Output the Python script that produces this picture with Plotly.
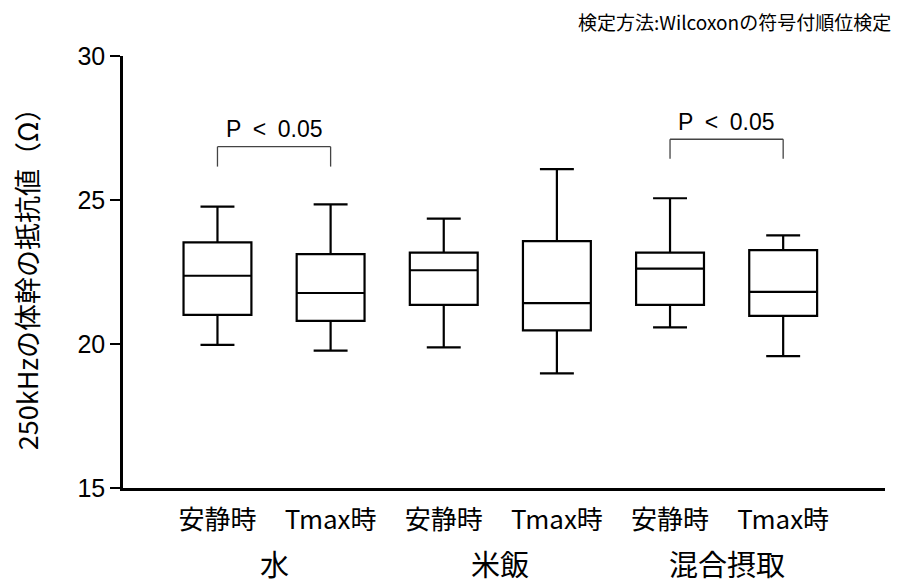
import plotly.graph_objects as go

# ---- data ----
conditions = ["安静時", "Tmax時", "安静時", "Tmax時", "安静時", "Tmax時"]
groups = ["水", "米飯", "混合摂取"]
lower_whisker = [19.97, 19.77, 19.88, 18.98, 20.58, 19.58]
q1_vals       = [21.01, 20.80, 21.36, 20.47, 21.36, 20.98]
medians       = [22.37, 21.77, 22.56, 21.42, 22.62, 21.81]
q3_vals       = [23.53, 23.12, 23.17, 23.57, 23.17, 23.26]
upper_whisker = [24.77, 24.85, 24.35, 26.07, 25.06, 23.77]
sig_pairs = [(0, 1), (4, 5)]
sig_text = "P\u2002<\u20020.05"
y_ticks = [15, 20, 25, 30]

FONT = "Noto Sans CJK JP"

fig = go.Figure()
for i in range(len(conditions)):
    fig.add_trace(go.Box(
        x=[i], q1=[q1_vals[i]], median=[medians[i]], q3=[q3_vals[i]],
        lowerfence=[lower_whisker[i]], upperfence=[upper_whisker[i]],
        width=0.6, whiskerwidth=0.5,
        line=dict(color="black", width=2.2),
        fillcolor="white", boxpoints=False, showlegend=False,
        hoverinfo="skip",
    ))

shapes = []
annotations = []
bracket_levels = [(26.16, 26.85, 27.47), (26.43, 27.11, 27.72)]
for (a, b), (ylo, yhi, ytxt) in zip(sig_pairs, bracket_levels):
    for seg in [(a, ylo, a, yhi), (a, yhi, b, yhi), (b, yhi, b, ylo)]:
        shapes.append(dict(type="line", xref="x", yref="y",
                           x0=seg[0], y0=seg[1], x1=seg[2], y1=seg[3],
                           line=dict(color="#444444", width=1.3)))
    annotations.append(dict(x=(a + b) / 2, y=ytxt, xref="x", yref="y",
                            text=sig_text, showarrow=False, yanchor="middle",
                            font=dict(family="Liberation Sans", size=23, color="black")))

# group labels
for gi, g in enumerate(groups):
    annotations.append(dict(x=2 * gi + 0.5, y=-0.174, xref="x", yref="paper",
                            text=g, showarrow=False, yanchor="middle",
                            font=dict(family=FONT, size=29, color="black")))

# y-axis title
annotations.append(dict(x=-0.127, y=0.5, xref="paper", yref="paper",
                        text="250kHzの体幹の抵抗値（Ω）", textangle=-90,
                        showarrow=False, xanchor="center", yanchor="middle",
                        font=dict(family=FONT, size=27, color="black")))
# test method note
annotations.append(dict(x=1.0095, y=1.079, xref="paper", yref="paper",
                        text="検定方法:Wilcoxonの符号付順位検定",
                        showarrow=False, xanchor="right", yanchor="middle",
                        borderpad=0,
                        font=dict(family=FONT, size=19, color="black")))

fig.update_layout(
    width=896, height=578,
    margin=dict(l=115, r=19, t=48, b=98),
    paper_bgcolor="white", plot_bgcolor="white",
    shapes=shapes, annotations=annotations,
    xaxis=dict(range=[-0.835, 5.9], tickmode="array",
               tickvals=list(range(len(conditions))), ticktext=conditions,
               showline=True, linecolor="black", linewidth=2.5,
               ticks="", showgrid=False, zeroline=False, ticklabelstandoff=7,
               tickfont=dict(family=FONT, size=26, color="black")),
    yaxis=dict(range=[15, 30], tickmode="array", tickvals=y_ticks,
               showline=True, linecolor="black", linewidth=2.5,
               ticks="outside", ticklen=10, tickwidth=2.2, tickcolor="black",
               showgrid=False, zeroline=False,
               tickfont=dict(family="Liberation Sans", size=25, color="black")),
)

fig.write_html("out.html")
